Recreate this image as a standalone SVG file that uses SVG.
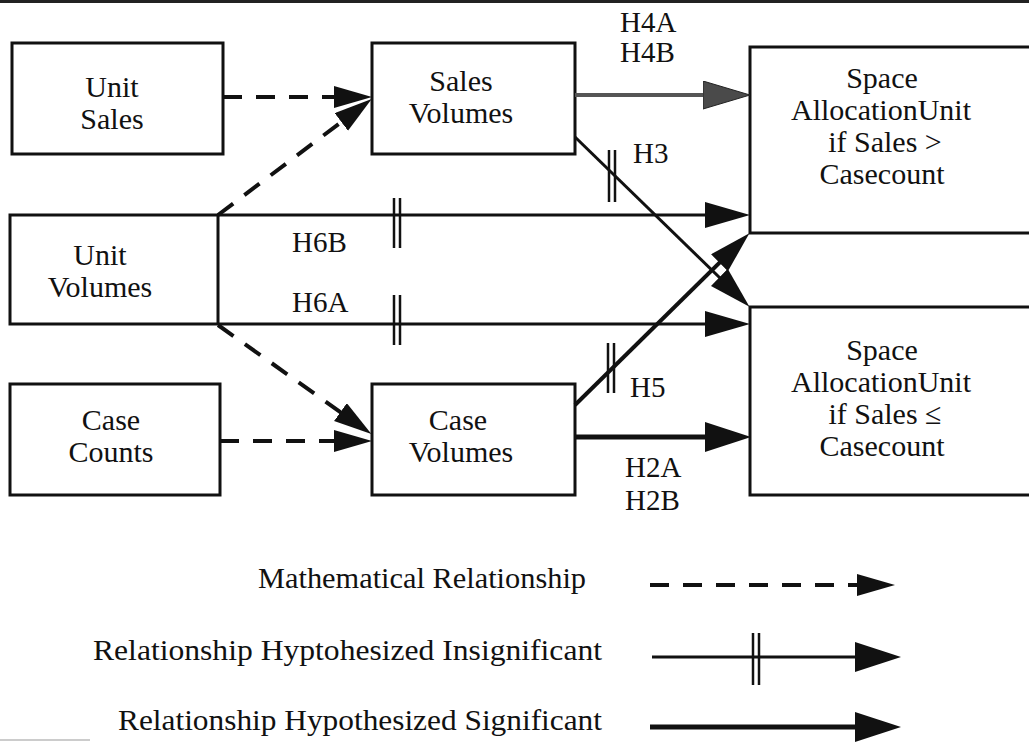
<svg xmlns="http://www.w3.org/2000/svg" width="1029" height="742" viewBox="0 0 1029 742">
<style>
  .box { fill: #fff; stroke: #111; stroke-width: 3; }
  .t { font-family: "Liberation Serif", "Times New Roman", serif; font-size: 30px; fill: #111; text-anchor: middle; }
  .ts { font-family: "Liberation Serif", "Times New Roman", serif; font-size: 30px; fill: #111; text-anchor: middle; }
  .lbl { font-family: "Liberation Serif", "Times New Roman", serif; font-size: 29px; fill: #111; }
  .leg { font-family: "Liberation Serif", "Times New Roman", serif; font-size: 29px; fill: #111; }
  .dash { fill: none; stroke: #111; stroke-width: 4; stroke-dasharray: 19 14; }
  .ins { fill: none; stroke: #111; stroke-width: 3; }
  .sig { fill: none; stroke: #111; stroke-width: 5; }
  .tick { stroke: #111; stroke-width: 2.5; }
</style>
<defs>
  <marker id="hd" markerUnits="userSpaceOnUse" markerWidth="40" markerHeight="24" refX="24" refY="11" orient="auto">
    <path d="M0,0 L38,11 L0,22 z" fill="#111"/>
  </marker>
  <marker id="h" markerUnits="userSpaceOnUse" markerWidth="48" markerHeight="30" refX="30" refY="13" orient="auto">
    <path d="M0,0 L45,13 L0,26 z" fill="#111"/>
  </marker>
  <marker id="hg" markerUnits="userSpaceOnUse" markerWidth="50" markerHeight="30" refX="32" refY="14" orient="auto">
    <path d="M0,0 L47,14 L0,28 z" fill="#4a4a4a" stroke="#222" stroke-width="1"/>
  </marker>
  <marker id="hl" markerUnits="userSpaceOnUse" markerWidth="50" markerHeight="32" refX="30" refY="15" orient="auto">
    <path d="M0,0 L46,15 L0,30 z" fill="#111"/>
  </marker>
  <marker id="hm" markerUnits="userSpaceOnUse" markerWidth="44" markerHeight="28" refX="26" refY="12" orient="auto">
    <path d="M0,0 L42,12 L0,24 z" fill="#111"/>
  </marker>
</defs>

<rect x="0" y="0" width="1029" height="3" fill="#222"/>
<line x1="0" y1="740" x2="90" y2="740" stroke="#999" stroke-width="1"/>

<g id="unit-sales">
  <rect class="box" x="12" y="43" width="211" height="111"/>
  <text class="t" x="112" y="97">Unit</text>
  <text class="t" x="112" y="129">Sales</text>
</g>
<g id="sales-volumes">
  <rect class="box" x="372" y="43" width="203" height="111"/>
  <text class="t" x="461" y="91">Sales</text>
  <text class="t" x="461" y="123">Volumes</text>
</g>
<g id="unit-volumes">
  <rect class="box" x="10" y="215" width="208" height="109"/>
  <text class="t" x="100" y="265">Unit</text>
  <text class="t" x="100" y="297">Volumes</text>
</g>
<g id="case-counts">
  <rect class="box" x="10" y="384" width="210" height="111"/>
  <text class="t" x="111" y="430">Case</text>
  <text class="t" x="111" y="462">Counts</text>
</g>
<g id="case-volumes">
  <rect class="box" x="372" y="384" width="203" height="111"/>
  <text class="t" x="458" y="430">Case</text>
  <text class="t" x="461" y="462">Volumes</text>
</g>
<g id="space-alloc-greater">
  <rect class="box" x="750" y="47" width="290" height="186"/>
  <text class="ts" x="882" y="88">Space</text>
  <text class="ts" x="881" y="120">AllocationUnit</text>
  <text class="ts" x="885" y="152">if Sales &gt;</text>
  <text class="ts" x="882" y="184">Casecount</text>
</g>
<g id="space-alloc-lesseq">
  <rect class="box" x="750" y="307" width="290" height="188"/>
  <text class="ts" x="882" y="360">Space</text>
  <text class="ts" x="881" y="392">AllocationUnit</text>
  <text class="ts" x="885" y="424">if Sales ≤</text>
  <text class="ts" x="882" y="456">Casecount</text>
</g>

<g id="connectors">
  <!-- mathematical (dashed) -->
  <line class="dash" x1="223" y1="97" x2="358" y2="97" marker-end="url(#hd)"/>
  <line class="dash" x1="218" y1="215" x2="360.5" y2="107.5" marker-end="url(#hd)"/>
  <line class="dash" x1="218" y1="325" x2="360" y2="426" marker-end="url(#hd)"/>
  <line class="dash" x1="220" y1="441" x2="358" y2="441" marker-end="url(#hd)"/>

  <!-- H4A/H4B significant (grey) -->
  <line x1="575" y1="95" x2="735" y2="95" stroke="#555" stroke-width="4" marker-end="url(#hg)"/>
  <!-- H6B insignificant -->
  <line class="ins" x1="218" y1="215" x2="735" y2="215" marker-end="url(#h)"/>
  <line class="tick" x1="394" y1="198" x2="394" y2="248"/>
  <line class="tick" x1="400" y1="198" x2="400" y2="248"/>
  <!-- H6A insignificant -->
  <line class="ins" x1="218" y1="324" x2="735" y2="324" marker-end="url(#h)"/>
  <line class="tick" x1="394" y1="295" x2="394" y2="345"/>
  <line class="tick" x1="400" y1="295" x2="400" y2="345"/>
  <!-- H3 insignificant -->
  <line class="ins" x1="575" y1="137" x2="738" y2="295.5" marker-end="url(#hm)"/>
  <line class="tick" x1="609" y1="150" x2="609" y2="202"/>
  <line class="tick" x1="615" y1="150" x2="615" y2="202"/>
  <!-- H5 insignificant -->
  <line x1="575" y1="405" x2="738" y2="244.5" stroke="#111" stroke-width="4" marker-end="url(#hm)"/>
  <line class="tick" x1="608" y1="343" x2="608" y2="393"/>
  <line class="tick" x1="614" y1="343" x2="614" y2="393"/>
  <!-- H2A/H2B significant -->
  <line class="sig" x1="575" y1="437" x2="735" y2="437" marker-end="url(#hl)"/>
</g>

<g id="labels">
  <text class="lbl" x="620" y="32">H4A</text>
  <text class="lbl" x="620" y="62">H4B</text>
  <text class="lbl" x="633" y="163">H3</text>
  <text class="lbl" x="292" y="252">H6B</text>
  <text class="lbl" x="292" y="312">H6A</text>
  <text class="lbl" x="630" y="397">H5</text>
  <text class="lbl" x="625" y="477">H2A</text>
  <text class="lbl" x="625" y="510">H2B</text>
</g>

<g id="legend">
  <text class="leg" x="258" y="588" textLength="328" lengthAdjust="spacingAndGlyphs">Mathematical Relationship</text>
  <line class="dash" x1="650" y1="585" x2="881" y2="585" marker-end="url(#hd)"/>
  <text class="leg" x="93" y="660" textLength="509" lengthAdjust="spacingAndGlyphs">Relationship Hyptohesized Insignificant</text>
  <line class="ins" x1="652" y1="657" x2="885" y2="657" marker-end="url(#hl)"/>
  <line class="tick" x1="753" y1="633" x2="753" y2="685"/>
  <line class="tick" x1="759" y1="633" x2="759" y2="685"/>
  <text class="leg" x="118" y="730" textLength="484" lengthAdjust="spacingAndGlyphs">Relationship Hypothesized Significant</text>
  <line class="sig" x1="650" y1="727" x2="885" y2="727" marker-end="url(#hl)"/>
</g>
</svg>
